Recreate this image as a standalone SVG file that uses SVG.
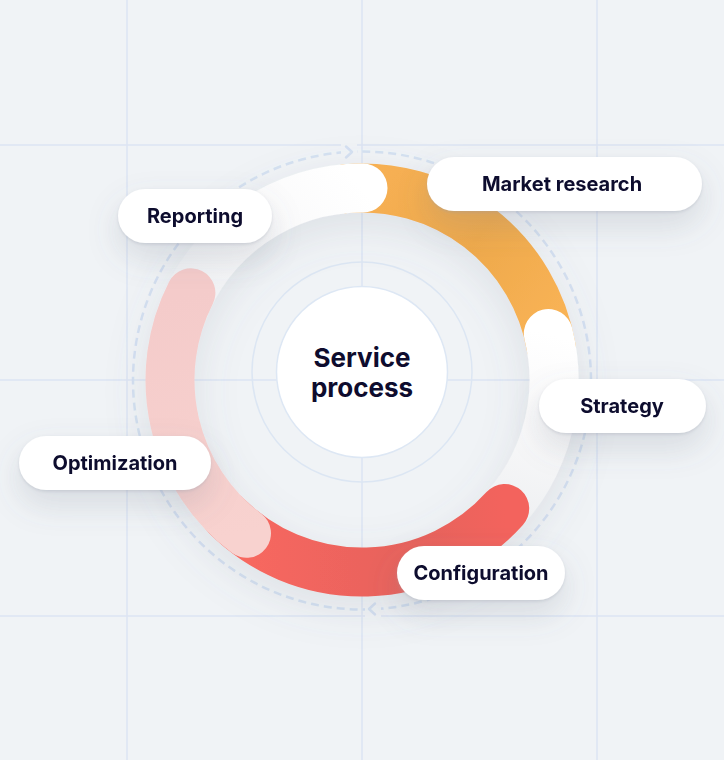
<svg xmlns="http://www.w3.org/2000/svg" width="724" height="760" viewBox="0 0 724 760">
  <defs>
    <style>
      .grid { stroke: #dce5f3; stroke-width: 1.5; fill: none; }
      .seg { fill: none; stroke-width: 49; stroke-linecap: round; }
      .pill { fill: #ffffff; }
      .lbl { font-family: Inter, "Noto Sans", "Liberation Sans", sans-serif; font-weight: 700; font-size: 20px; fill: #0e0c2e; text-anchor: middle; }
      .center-lbl { font-family: Inter, "Noto Sans", "Liberation Sans", sans-serif; font-weight: 700; font-size: 26px; fill: #0e0c2e; text-anchor: middle; }
      .dash { fill: none; stroke: #d4e0f1; stroke-width: 2.5; stroke-dasharray: 8 5; }
      .chev { fill: none; stroke: #d4e0f1; stroke-width: 2.5; stroke-linecap: round; stroke-linejoin: round; }
    </style>
    <filter id="ringShadow" x="-30%" y="-30%" width="160%" height="160%">
      <feDropShadow dx="0" dy="12" stdDeviation="20" flood-color="#6b7280" flood-opacity="0.14"/>
    </filter>
    <filter id="pillShadow" x="-30%" y="-60%" width="160%" height="260%">
      <feDropShadow dx="0" dy="14" stdDeviation="16" flood-color="#6b7280" flood-opacity="0.16"/>
      <feDropShadow dx="0" dy="1.5" stdDeviation="1.5" flood-color="#9aa3b0" flood-opacity="0.35"/>
    </filter>
    <linearGradient id="gOrange" x1="362" y1="188" x2="550" y2="340" gradientUnits="userSpaceOnUse">
      <stop offset="0" stop-color="#f7b053"/>
      <stop offset="0.5" stop-color="#eea94c"/>
      <stop offset="1" stop-color="#f9b355"/>
    </linearGradient>
    <linearGradient id="gRed" x1="505" y1="508" x2="246" y2="533" gradientUnits="userSpaceOnUse">
      <stop offset="0" stop-color="#f3645d"/>
      <stop offset="0.35" stop-color="#e6625c"/>
      <stop offset="1" stop-color="#f7675f"/>
    </linearGradient>
    <linearGradient id="gPink" x1="246" y1="533" x2="191" y2="293" gradientUnits="userSpaceOnUse">
      <stop offset="0" stop-color="#f8d2cf"/>
      <stop offset="1" stop-color="#f4cbca"/>
    </linearGradient>
    <linearGradient id="gWhiteR" x1="200" y1="330" x2="362" y2="188" gradientUnits="userSpaceOnUse">
      <stop offset="0" stop-color="#eceef1"/>
      <stop offset="0.5" stop-color="#f9f9fa"/>
      <stop offset="1" stop-color="#ffffff"/>
    </linearGradient>
    <linearGradient id="gWhiteS" x1="548" y1="334" x2="500" y2="520" gradientUnits="userSpaceOnUse">
      <stop offset="0" stop-color="#ffffff"/>
      <stop offset="0.5" stop-color="#f8f8f9"/>
      <stop offset="1" stop-color="#eef0f2"/>
    </linearGradient>
  </defs>

  <rect x="0" y="0" width="724" height="760" fill="#f0f3f6"/>

  <g id="grid">
    <line class="grid" x1="127" y1="0" x2="127" y2="760"/>
    <line class="grid" x1="362" y1="0" x2="362" y2="760"/>
    <line class="grid" x1="597" y1="0" x2="597" y2="760"/>
    <line class="grid" x1="0" y1="145" x2="724" y2="145"/>
    <line class="grid" x1="0" y1="380" x2="724" y2="380"/>
    <line class="grid" x1="0" y1="616" x2="724" y2="616"/>
  </g>

  <g id="connectors">
    <circle class="dash" cx="362" cy="380.5" r="229"/>
    <rect x="341" y="143" width="16" height="18" fill="#f0f3f6"/>
    <polyline class="chev" points="346,146.5 352,152 346,157.5"/>
    <rect x="365" y="600" width="16" height="18" fill="#f0f3f6"/>
    <polyline class="chev" points="375,603.5 369,609 375,614.5"/>
  </g>

  <g id="inner">
    <circle cx="362" cy="372" r="110" fill="none" stroke="#dce6f3" stroke-width="1.5"/>
  </g>

  <g id="ring" filter="url(#ringShadow)">
    <path id="seg-market" class="seg" stroke="url(#gOrange)" d="M 345.3 188.7 A 192 192 0 0 1 551.1 346.7"/>
    <path id="seg-strategy" class="seg" stroke="url(#gWhiteS)" d="M 548.3 333.6 A 192 192 0 0 1 485.4 527.1"/>
    <path id="seg-config" class="seg" stroke="url(#gRed)" d="M 504.7 508.5 A 192 192 0 0 1 226.2 515.8"/>
    <path id="seg-reporting" class="seg" stroke="url(#gWhiteR)" d="M 181.6 314.3 A 192 192 0 0 1 363 188"/>
    <path id="seg-optimization" class="seg" stroke="url(#gPink)" d="M 246.5 533.3 A 192 192 0 0 1 190.9 292.8"/>
  </g>

  <g id="center">
    <circle cx="362" cy="372" r="85.5" fill="#ffffff" stroke="#dde7f4" stroke-width="1.5"/>
    <text class="center-lbl" x="362" y="367">Service</text>
    <text class="center-lbl" x="362" y="397">process</text>
  </g>

  <g id="node-reporting" filter="url(#pillShadow)">
    <rect class="pill" x="118" y="189" width="154" height="54" rx="27"/>
    <text class="lbl" x="195" y="223">Reporting</text>
  </g>
  <g id="node-market" filter="url(#pillShadow)">
    <rect class="pill" x="427" y="157" width="275" height="54" rx="27"/>
    <text class="lbl" x="562" y="191">Market research</text>
  </g>
  <g id="node-strategy" filter="url(#pillShadow)">
    <rect class="pill" x="539" y="379" width="167" height="54" rx="27"/>
    <text class="lbl" x="622" y="413">Strategy</text>
  </g>
  <g id="node-optimization" filter="url(#pillShadow)">
    <rect class="pill" x="19" y="436" width="192" height="54" rx="27"/>
    <text class="lbl" x="115" y="470">Optimization</text>
  </g>
  <g id="node-configuration" filter="url(#pillShadow)">
    <rect class="pill" x="397" y="546" width="168" height="54" rx="27"/>
    <text class="lbl" x="481" y="580">Configuration</text>
  </g>
</svg>
